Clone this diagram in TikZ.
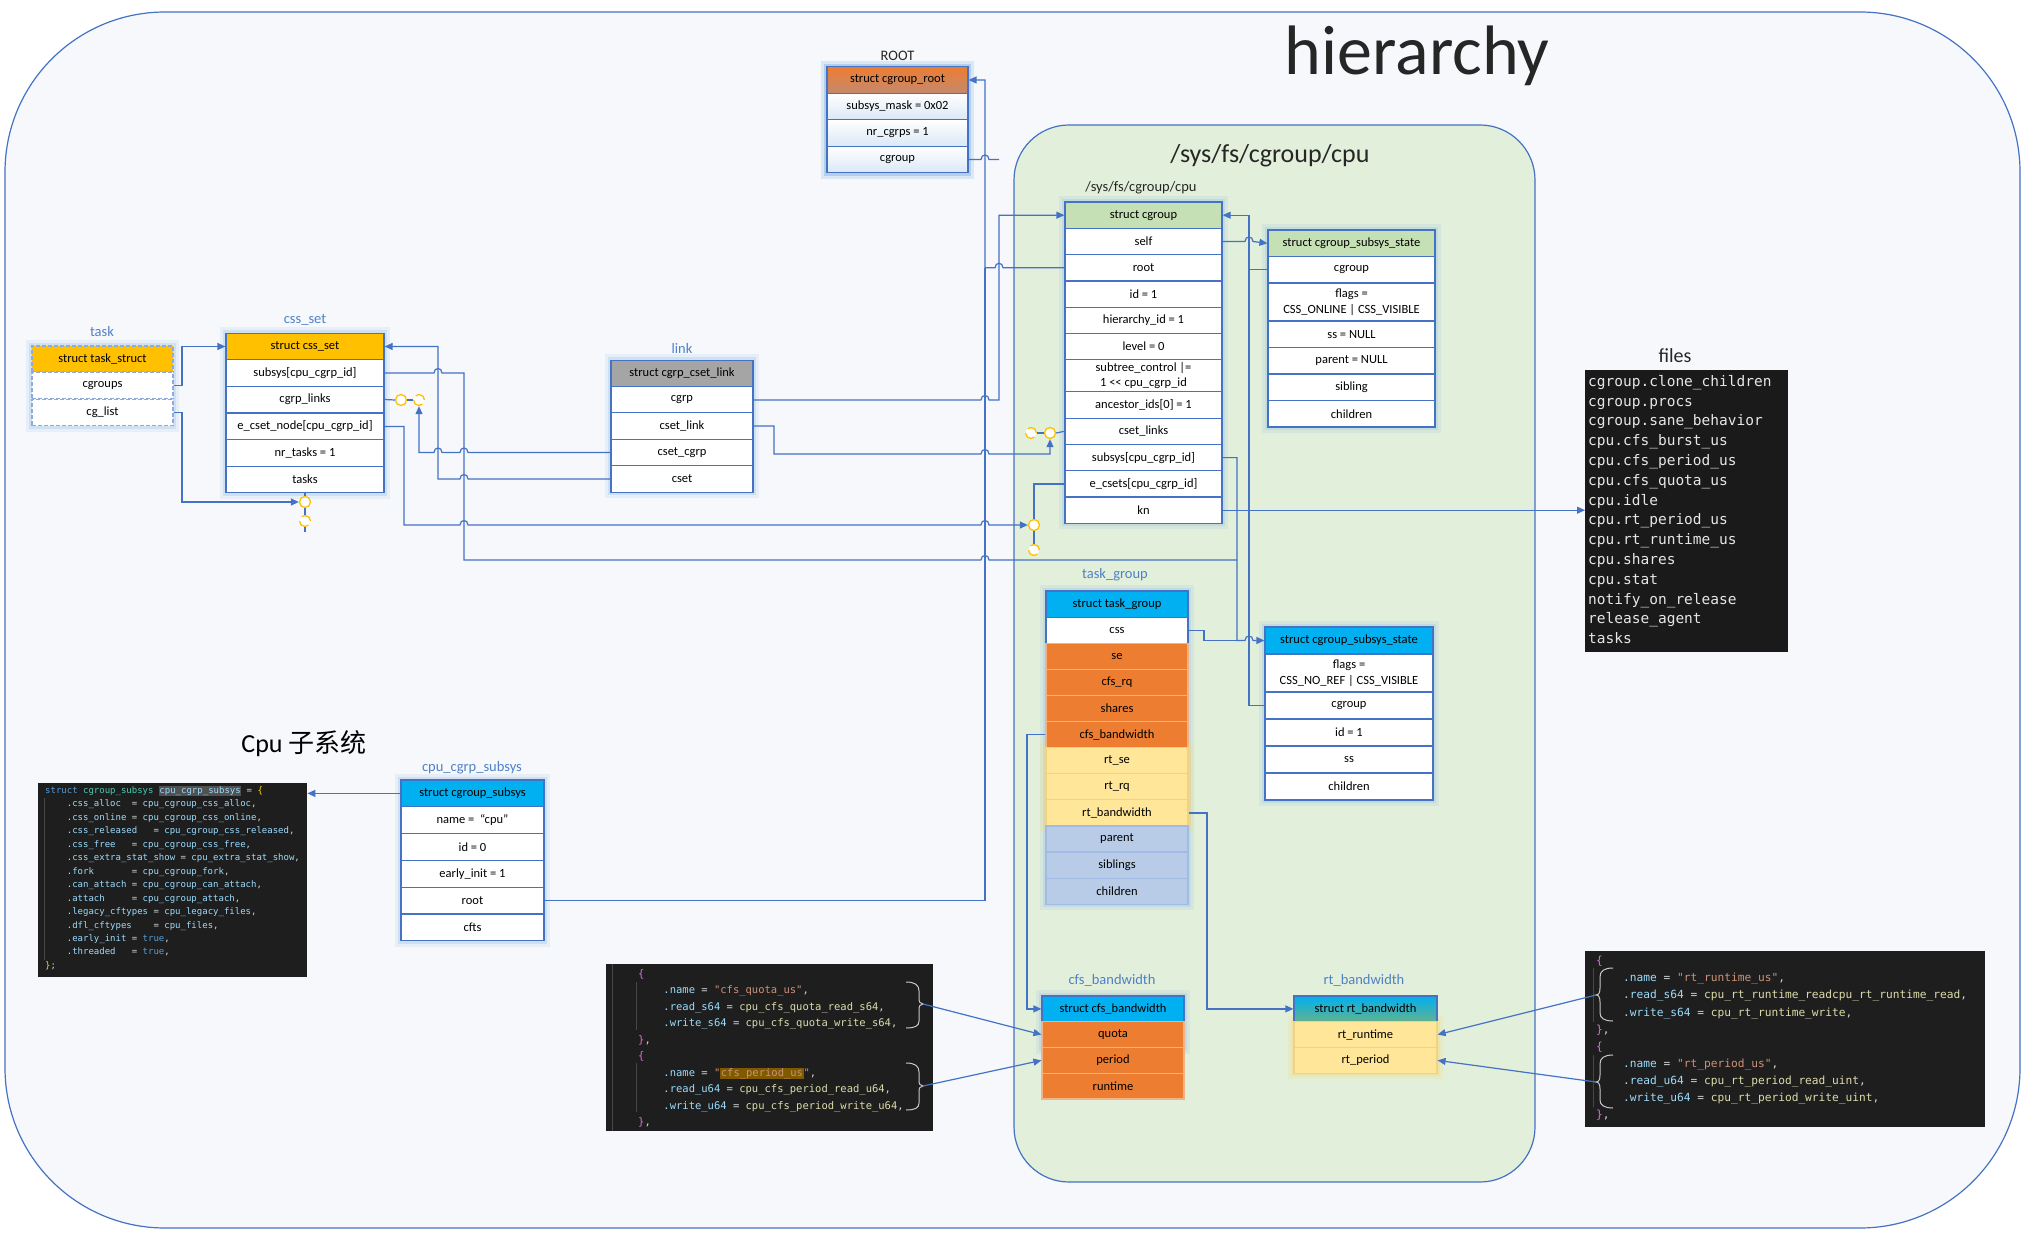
\documentclass[tikz,border=0pt]{standalone}
\usepackage{fontspec}
\setmainfont{Carlito}
\setmonofont{DejaVu Sans Mono}
\newfontfamily\cjk{Noto Sans CJK SC}
\usetikzlibrary{arrows.meta,calc}

\pgfdeclarelayer{frame}
\pgfdeclarelayer{halo}
\pgfsetlayers{frame,halo,main}

\definecolor{boxblue}{RGB}{68,114,196}
\definecolor{tagblue}{RGB}{79,129,201}
\definecolor{dashblue}{RGB}{143,170,220}
\definecolor{gold}{RGB}{255,192,0}
\definecolor{orng}{RGB}{237,125,49}
\definecolor{orngdk}{RGB}{196,137,110}
\definecolor{orngline}{RGB}{244,177,131}
\definecolor{cyanhd}{RGB}{0,176,240}
\definecolor{tealhd}{RGB}{98,178,142}
\definecolor{greenhd}{RGB}{197,224,180}
\definecolor{greyhd}{RGB}{165,165,165}
\definecolor{rtyel}{RGB}{255,230,153}
\definecolor{rtline}{RGB}{240,210,130}
\definecolor{lblue}{RGB}{184,204,232}
\definecolor{lbline}{RGB}{160,188,228}
\definecolor{rowtint}{RGB}{218,232,246}
\definecolor{grnarea}{RGB}{226,239,218}
\definecolor{outerbg}{RGB}{247,248,252}
\definecolor{titlegrey}{RGB}{38,38,38}
\definecolor{glowblue}{RGB}{157,195,230}
\definecolor{glowroot}{RGB}{91,155,213}
\definecolor{glowyel}{RGB}{255,217,102}
\definecolor{codebg}{RGB}{30,30,30}
\definecolor{filebg}{RGB}{26,26,26}
\definecolor{filetxt}{RGB}{230,230,230}
\definecolor{ckw}{RGB}{86,156,214}
\definecolor{ctype}{RGB}{78,201,176}
\definecolor{cvar}{RGB}{156,220,254}
\definecolor{cfun}{RGB}{220,220,170}
\definecolor{cstr}{RGB}{206,145,120}
\definecolor{cpun}{RGB}{212,212,212}
\definecolor{cbrk}{RGB}{255,215,0}
\definecolor{cmag}{RGB}{218,112,214}
\definecolor{hlgrey}{RGB}{81,81,81}
\definecolor{hlbrown}{RGB}{128,90,0}
\definecolor{guidegrey}{RGB}{70,70,70}
\definecolor{bracegrey}{RGB}{200,200,200}

% code colouring
\newcommand\kw[1]{\textcolor{ckw}{#1}}
\newcommand\ty[1]{\textcolor{ctype}{#1}}
\newcommand\va[1]{\textcolor{cvar}{#1}}
\newcommand\fn[1]{\textcolor{cfun}{#1}}
\newcommand\st[1]{\textcolor{cstr}{#1}}
\newcommand\bk[1]{\textcolor{cbrk}{#1}}
\newcommand\mg[1]{\textcolor{cmag}{#1}}
\newcommand\hlbox[2]{{\setlength\fboxsep{0.5pt}\colorbox{#1}{#2}}}

% line jumps over a vertical line (going right / going left)
\newcommand\hopr[1]{-- ($(#1)+(-4,0)$) .. controls +(0,-6) and +(0,-6) .. ($(#1)+(4,0)$)}
\newcommand\hopl[1]{-- ($(#1)+(4,0)$) .. controls +(0,-6) and +(0,-6) .. ($(#1)+(-4,0)$)}

\tikzset{every picture/.style={line width=0.75pt}}
\tikzset{
  fld/.style={draw=boxblue, line width=1.2pt, fill=white, inner sep=0pt, text=black, align=center, font=\fontsize{12.5}{15.5}\selectfont},
  dfld/.style={fld, draw=dashblue, dash pattern=on 4pt off 2pt},
  orow/.style={fld, fill=orng, draw=orngline},
  yrow/.style={fld, fill=rtyel, draw=rtline},
  brow/.style={fld, fill=lblue, draw=lbline},
  tag/.style={text=tagblue, font=\fontsize{14.5}{17}\selectfont},
  ttl/.style={text=titlegrey, font=\fontsize{#1}{#1}\selectfont},
  conn/.style={draw=boxblue, line width=1.2pt, -{Triangle[length=8pt,width=7pt]}},
  wire/.style={draw=boxblue, line width=1.2pt},
  lh/.style={circle, draw=gold, fill=white, line width=1.3pt, minimum size=11pt, inner sep=0pt},
  lhd/.style={lh, dash pattern=on 12pt off 5pt},
  glow/.style={draw=#1, line width=11pt, opacity=0.18, preaction={draw=#1, line width=5pt, opacity=0.3}},
  codebox/.style={fill=#1, draw=none, inner sep=0pt, anchor=north west},
  codetxt/.style={anchor=north west, inner sep=0pt, align=left, text=cpun},
  curl/.style={draw=bracegrey, line width=1pt},
  guide/.style={draw=guidegrey, line width=1pt},
}

\begin{document}
\catcode`\_=12
\begin{tikzpicture}[x=1pt,y=1pt,yscale=-1]
  \useasboundingbox (0,0) rectangle (2026,1238);

  % frames
  \begin{pgfonlayer}{frame}
    \draw[boxblue, line width=1.2pt, fill=outerbg, rounded corners=160pt] (5,12) rectangle (2020,1228);
    \draw[boxblue, line width=1.2pt, fill=grnarea, rounded corners=55pt] (1014,125) rectangle (1535,1182);
  \end{pgfonlayer}

  % titles
  \node[ttl=70, anchor=base] (title) at (1417,75) {hierarchy};
  \node[ttl=26, anchor=base] (cpu-title) at (1270,163) {/sys/fs/cgroup/cpu};
  \node[ttl=26, anchor=base, text=black] (sub-title) at (304,752) {Cpu {\cjk 子系统}};
  \node[ttl=14.5] (root-tag) at (897.5,56) {ROOT};
  \node[ttl=14.5] (cg-tag) at (1141,188) {/sys/fs/cgroup/cpu};
  \node[ttl=20] (files-tag) at (1675,356) {files};

  % tags
  \node[tag] (tk-tag) at (102,332) {task};
  \node[tag] (cs-tag) at (305,320) {css_set};
  \node[tag] (lk-tag) at (682,348) {link};
  \node[tag] (tg-tag) at (1115,575) {task_group};
  \node[tag] (ss-tag) at (472,768) {cpu_cgrp_subsys};
  \node[tag] (cb-tag) at (1112,980) {cfs_bandwidth};
  \node[tag] (rb-tag) at (1364,980) {rt_bandwidth};

  % struct cgroup_root
  \begin{scope}[every node/.append style={minimum width=141pt, minimum height=26.5pt}]
    \node[fld, top color=orng, bottom color=orngdk] (rt-hd) at (897.5,80) {struct cgroup_root};
    \node[fld, top color=white, bottom color=rowtint] (rt-mask) at (897.5,106.5) {subsys_mask = 0x02};
    \node[fld, top color=white, bottom color=rowtint] (rt-nr) at (897.5,133) {nr_cgrps = 1};
    \node[fld, top color=white, bottom color=rowtint] (rt-cgroup) at (897.5,159.5) {cgroup};
  \end{scope}

  % struct task_struct
  \begin{scope}[every node/.append style={minimum width=141pt, minimum height=26pt}]
    \node[dfld, fill=gold] (tk-hd) at (102.5,359) {struct task_struct};
    \node[dfld] (tk-cgroups) at (102.5,385.5) {cgroups};
    \node[dfld] (tk-cglist) at (102.5,412.5) {cg_list};
  \end{scope}

  % struct css_set
  \begin{scope}[every node/.append style={minimum width=158pt, minimum height=26.7pt}]
    \node[fld, fill=gold] (cs-hd) at (305,346.5) {struct css_set};
    \node[fld] (cs-subsys) at (305,373) {subsys[cpu_cgrp_id]};
    \node[fld] (cs-links) at (305,399.5) {cgrp_links};
    \node[fld] (cs-ecset) at (305,426.5) {e_cset_node[cpu_cgrp_id]};
    \node[fld] (cs-nr) at (305,453) {nr_tasks = 1};
    \node[fld] (cs-tasks) at (305,479.5) {tasks};
  \end{scope}

  % struct cgrp_cset_link
  \begin{scope}[every node/.append style={minimum width=142pt, minimum height=26.5pt}]
    \node[fld, fill=greyhd] (lk-hd) at (682,373.5) {struct cgrp_cset_link};
    \node[fld] (lk-cgrp) at (682,400) {cgrp};
    \node[fld] (lk-clink) at (682,426) {cset_link};
    \node[fld] (lk-ccg) at (682,452.5) {cset_cgrp};
    \node[fld] (lk-cset) at (682,479) {cset};
  \end{scope}

  % struct cgroup
  \begin{scope}[every node/.append style={minimum width=157pt, minimum height=26.3pt}]
    \node[fld, fill=greenhd] (cg-hd) at (1143.5,215.2) {struct cgroup};
    \node[fld] (cg-self) at (1143.5,241.5) {self};
    \node[fld] (cg-root) at (1143.5,267.8) {root};
    \node[fld] (cg-id) at (1143.5,294.1) {id = 1};
    \node[fld] (cg-hier) at (1143.5,320.4) {hierarchy_id = 1};
    \node[fld] (cg-level) at (1143.5,346.7) {level = 0};
    \node[fld, minimum height=32pt] (cg-subtree) at (1143.5,375.8) {subtree_control |=\\1 <{}< cpu_cgrp_id};
    \node[fld] (cg-anc) at (1143.5,405) {ancestor_ids[0] = 1};
    \node[fld] (cg-clinks) at (1143.5,431.3) {cset_links};
    \node[fld] (cg-subsys) at (1143.5,457.6) {subsys[cpu_cgrp_id]};
    \node[fld] (cg-ecsets) at (1143.5,483.9) {e_csets[cpu_cgrp_id]};
    \node[fld] (cg-kn) at (1143.5,510.2) {kn};
  \end{scope}

  % struct cgroup_subsys_state of the cgroup
  \begin{scope}[every node/.append style={minimum width=167pt, minimum height=26.5pt}]
    \node[fld, fill=greenhd] (c1-hd) at (1351.5,243.3) {struct cgroup_subsys_state};
    \node[fld] (c1-cgroup) at (1351.5,269.8) {cgroup};
    \node[fld, minimum height=38pt] (c1-flags) at (1351.5,302) {flags =\\CSS_ONLINE | CSS_VISIBLE};
    \node[fld] (c1-ss) at (1351.5,334.3) {ss = NULL};
    \node[fld] (c1-parent) at (1351.5,360.8) {parent = NULL};
    \node[fld] (c1-sibling) at (1351.5,387.3) {sibling};
    \node[fld] (c1-children) at (1351.5,413.8) {children};
  \end{scope}

  % struct task_group
  \begin{scope}[every node/.append style={minimum width=142pt, minimum height=26.1pt}]
    \node[fld, fill=cyanhd] (tg-hd) at (1117,604.1) {struct task_group};
    \node[fld] (tg-css) at (1117,630.2) {css};
    \node[orow] (tg-se) at (1117,656.3) {se};
    \node[orow] (tg-cfsrq) at (1117,682.4) {cfs_rq};
    \node[orow] (tg-shares) at (1117,708.5) {shares};
    \node[orow] (tg-cfsbw) at (1117,734.6) {cfs_bandwidth};
    \node[yrow] (tg-rtse) at (1117,760.7) {rt_se};
    \node[yrow] (tg-rtrq) at (1117,786.8) {rt_rq};
    \node[yrow] (tg-rtbw) at (1117,812.9) {rt_bandwidth};
    \node[brow] (tg-parent) at (1117,839) {parent};
    \node[brow] (tg-siblings) at (1117,865.1) {siblings};
    \node[brow] (tg-children) at (1117,891.2) {children};
  \end{scope}

  % struct cgroup_subsys_state of the task_group
  \begin{scope}[every node/.append style={minimum width=168pt, minimum height=27pt}]
    \node[fld, fill=cyanhd] (c2-hd) at (1349,640.5) {struct cgroup_subsys_state};
    \node[fld, minimum height=38pt] (c2-flags) at (1349,673) {flags =\\CSS_NO_REF | CSS_VISIBLE};
    \node[fld] (c2-cgroup) at (1349,705.5) {cgroup};
    \node[fld] (c2-id) at (1349,732.5) {id = 1};
    \node[fld] (c2-ss) at (1349,759.5) {ss};
    \node[fld] (c2-children) at (1349,786.5) {children};
  \end{scope}

  % struct cgroup_subsys
  \begin{scope}[every node/.append style={minimum width=143pt, minimum height=26.8pt}]
    \node[fld, fill=cyanhd] (ss-hd) at (472.5,793.4) {struct cgroup_subsys};
    \node[fld] (ss-name) at (472.5,820.2) {name =~ “cpu”};
    \node[fld] (ss-id) at (472.5,847) {id = 0};
    \node[fld] (ss-early) at (472.5,873.8) {early_init = 1};
    \node[fld] (ss-root) at (472.5,900.6) {root};
    \node[fld] (ss-cfts) at (472.5,927.4) {cfts};
  \end{scope}

  % struct cfs_bandwidth
  \begin{scope}[every node/.append style={minimum width=142pt, minimum height=25.8pt}]
    \node[fld, fill=cyanhd] (cb-hd) at (1113,1008.9) {struct cfs_bandwidth};
    \node[orow] (cb-quota) at (1113,1034.6) {quota};
    \node[orow] (cb-period) at (1113,1060.4) {period};
    \node[orow] (cb-runtime) at (1113,1086.1) {runtime};
  \end{scope}

  % struct rt_bandwidth
  \begin{scope}[every node/.append style={minimum width=143pt, minimum height=25.8pt}]
    \node[fld, top color=cyanhd, bottom color=tealhd] (rb-hd) at (1365.5,1008.9) {struct rt_bandwidth};
    \node[yrow] (rb-rtrun) at (1365.5,1034.6) {rt_runtime};
    \node[yrow] (rb-rtper) at (1365.5,1060.4) {rt_period};
  \end{scope}

  % glow round the boxes
  \begin{pgfonlayer}{halo}
    \draw[glow=glowroot] (rt-hd.north west) rectangle (rt-cgroup.south east);
    \draw[glow=glowblue] (tk-hd.north west) rectangle (tk-cglist.south east);
    \draw[glow=glowblue] (cs-hd.north west) rectangle (cs-tasks.south east);
    \draw[glow=glowblue] (lk-hd.north west) rectangle (lk-cset.south east);
    \draw[glow=glowblue] (cg-hd.north west) rectangle (cg-kn.south east);
    \draw[glow=glowblue] (c1-hd.north west) rectangle (c1-children.south east);
    \draw[glow=glowblue] (tg-hd.north west) rectangle (tg-children.south east);
    \draw[glow=glowyel] (tg-rtse.north west) rectangle (tg-rtbw.south east);
    \draw[glow=glowblue] (c2-hd.north west) rectangle (c2-children.south east);
    \draw[glow=glowblue] (ss-hd.north west) rectangle (ss-cfts.south east);
    \draw[glow=glowblue] (cb-hd.north west) rectangle (cb-quota.south east);
    \draw[glow=glowyel] (rb-rtrun.north west) rectangle (rb-rtper.south east);
  \end{pgfonlayer}

  % list heads
  \node[lh] (lh-t1) at (305,502) {};
  \node[lhd] (lh-t2) at (305,521) {};
  \node[lh] (lh-c1) at (401,400) {};
  \node[lhd] (lh-c2) at (419,400) {};
  \node[lhd] (lh-g1) at (1031,433) {};
  \node[lh] (lh-g2) at (1050,433) {};
  \node[lh] (lh-e1) at (1034,525) {};
  \node[lhd] (lh-e2) at (1034,550) {};
  \coordinate (lh-tend) at (305,532);

  % code: cpu_cgrp_subsys
  \node[codebox=codebg, minimum width=269pt, minimum height=194pt] (subsys-code) at (38,783) {};
  \draw[guide] (44,798) -- (44,960);
  \node[codetxt, font=\fontsize{9}{13.45}\selectfont\ttfamily\frenchspacing] (subsys-txt) at (45,786) {%
\kw{struct} \ty{cgroup_subsys} \hlbox{hlgrey}{\va{cpu_cgrp_subsys}} = \bk{\{}\\
~~~~\va{.css_alloc}~~= \va{cpu_cgroup_css_alloc},\\
~~~~\va{.css_online} = \va{cpu_cgroup_css_online},\\
~~~~\va{.css_released}~~~= \va{cpu_cgroup_css_released},\\
~~~~\va{.css_free}~~~= \va{cpu_cgroup_css_free},\\
~~~~\va{.css_extra_stat_show} = \va{cpu_extra_stat_show},\\
~~~~\va{.fork}~~~~~~~= \va{cpu_cgroup_fork},\\
~~~~\va{.can_attach} = \va{cpu_cgroup_can_attach},\\
~~~~\va{.attach}~~~~~= \va{cpu_cgroup_attach},\\
~~~~\va{.legacy_cftypes} = \va{cpu_legacy_files},\\
~~~~\va{.dfl_cftypes}~~~~= \va{cpu_files},\\
~~~~\va{.early_init} = \kw{true},\\
~~~~\va{.threaded}~~~= \kw{true},\\
\bk{\}};};

  % code: cfs files
  \node[codebox=codebg, minimum width=327pt, minimum height=167pt] (cfs-code) at (606,964) {};
  \draw[guide] (612,964) -- (612,1131);
  \draw[guide] (636,982) -- (636,1030);
  \draw[guide] (636,1063) -- (636,1112);
  \node[codetxt, font=\fontsize{10.5}{16.5}\selectfont\ttfamily\frenchspacing] (cfs-txt) at (638,969) {%
\mg{\{}\\
~~~~\va{.name} = \st{"cfs_quota_us"},\\
~~~~\va{.read_s64} = \fn{cpu_cfs_quota_read_s64},\\
~~~~\va{.write_s64} = \fn{cpu_cfs_quota_write_s64},\\
\mg{\}},\\
\mg{\{}\\
~~~~\va{.name} = \st{"\hlbox{hlbrown}{cfs_period_us}"},\\
~~~~\va{.read_u64} = \fn{cpu_cfs_period_read_u64},\\
~~~~\va{.write_u64} = \fn{cpu_cfs_period_write_u64},\\
\mg{\}},};
  \draw[curl] (906,982) .. controls (915,982) and (919,985) .. (919,991) -- (919,998) .. controls (919,1002) and (920,1004) .. (923,1004) .. controls (920,1004) and (919,1006) .. (919,1010) -- (919,1021) .. controls (919,1026) and (915,1028) .. (906,1028);
  \draw[curl] (906,1063) .. controls (915,1063) and (919,1066) .. (919,1072) -- (919,1080) .. controls (919,1084) and (920,1086) .. (923,1086) .. controls (920,1086) and (919,1088) .. (919,1092) -- (919,1103) .. controls (919,1108) and (915,1110) .. (906,1110);
  \coordinate (cfsq-tip) at (923,1004);
  \coordinate (cfsp-tip) at (923,1086);

  % code: rt files
  \node[codebox=codebg, minimum width=400pt, minimum height=176pt] (rt-code) at (1585,951) {};
  \draw[guide] (1593,968) -- (1593,1022);
  \draw[guide] (1593,1055) -- (1593,1107);
  \node[codetxt, font=\fontsize{11.2}{17.1}\selectfont\ttfamily\frenchspacing] (rt-txt) at (1596,956) {%
\mg{\{}\\
~~~~\va{.name} = \st{"rt_runtime_us"},\\
~~~~\va{.read_s64} = \fn{cpu_rt_runtime_readcpu_rt_runtime_read},\\
~~~~\va{.write_s64} = \fn{cpu_rt_runtime_write},\\
\mg{\}},\\
\mg{\{}\\
~~~~\va{.name} = \st{"rt_period_us"},\\
~~~~\va{.read_u64} = \fn{cpu_rt_period_read_uint},\\
~~~~\va{.write_u64} = \fn{cpu_rt_period_write_uint},\\
\mg{\}},};
  \draw[curl] (1613,968) .. controls (1604,968) and (1600,971) .. (1600,977) -- (1600,988) .. controls (1600,992) and (1599,995) .. (1596,995) .. controls (1599,995) and (1600,998) .. (1600,1002) -- (1600,1013) .. controls (1600,1018) and (1604,1021) .. (1613,1021);
  \draw[curl] (1613,1055) .. controls (1604,1055) and (1600,1058) .. (1600,1064) -- (1600,1075) .. controls (1600,1079) and (1599,1082) .. (1596,1082) .. controls (1599,1082) and (1600,1085) .. (1600,1089) -- (1600,1100) .. controls (1600,1105) and (1604,1108) .. (1613,1108);
  \coordinate (rtr-tip) at (1596,995);
  \coordinate (rtp-tip) at (1596,1082);

  % files
  \node[codebox=filebg, minimum width=203pt, minimum height=282pt] (files) at (1585,370) {};
  \node[codetxt, text=filetxt, font=\fontsize{14.5}{19.8}\selectfont\ttfamily] (files-txt) at (1588,375) {%
cgroup.clone_children\\cgroup.procs\\cgroup.sane_behavior\\cpu.cfs_burst_us\\cpu.cfs_period_us\\cpu.cfs_quota_us\\cpu.idle\\cpu.rt_period_us\\cpu.rt_runtime_us\\cpu.shares\\cpu.stat\\notify_on_release\\release_agent\\tasks};

  % vertical runs of the connectors
  \coordinate (v-task) at (182,0);
  \coordinate (v-ecset) at (404,0);
  \coordinate (v-cset) at (438,0);
  \coordinate (v-subsys) at (464,0);
  \coordinate (v-clink) at (774,0);
  \coordinate (v-root) at (985,0);
  \coordinate (v-cgrp) at (999,0);
  \coordinate (v-cfsbw) at (1027,0);
  \coordinate (v-tgcss) at (1204,0);
  \coordinate (v-rtbw) at (1207,0);
  \coordinate (v-css) at (1237,0);
  \coordinate (v-cgback) at (1249,0);
  \coordinate (h-clink) at (0,454);
  \coordinate (h-subsys) at (0,560);

  % task -> css_set
  \draw[conn] (tk-cgroups.east) -- (v-task |- tk-cgroups.east) -- (v-task |- cs-hd.west) -- (cs-hd.west);
  \draw[conn] (tk-cglist.east) -- (v-task |- tk-cglist.east) -- (v-task |- lh-t1.west) -- (lh-t1.west);
  \draw[wire] (cs-tasks.south) -- (lh-t1.north);
  \draw[wire] (lh-t1.south) -- (lh-t2.north);
  \draw[wire] (lh-t2.south) -- (lh-tend);

  % css_set <-> link
  \draw[wire] (cs-links.east) -- (lh-c1.west);
  \draw[wire] (lh-c1.east) -- (lh-c2.west);
  \draw[conn] (lk-ccg.west) \hopl{v-subsys |- lk-ccg.west} \hopl{v-cset |- lk-ccg.west} -- (lh-c2 |- lk-ccg.west) -- (lh-c2.south);
  \draw[conn] (lk-cset.west) \hopl{v-subsys |- lk-cset.west} -- (v-cset |- lk-cset.west) -- (v-cset |- cs-hd.east) -- (cs-hd.east);

  % css_set.subsys and cgroup.subsys -> task_group css
  \draw[wire] (cs-subsys.east) \hopr{v-cset |- cs-subsys.east} -- (v-subsys |- cs-subsys.east) -- (v-subsys |- h-subsys) \hopr{v-root |- h-subsys} -- (v-css |- h-subsys);
  \draw[conn] (cg-subsys.east) -- (v-css |- cg-subsys.east) -- (v-css |- c2-hd.west) \hopr{v-cgback |- c2-hd.west} -- (c2-hd.west);
  \draw[wire] (tg-css.east) -- (v-tgcss |- tg-css.east) -- (v-tgcss |- c2-hd.west) -- (v-css |- c2-hd.west);

  % e_cset_node -> e_csets
  \draw[conn] (cs-ecset.east) -- (v-ecset |- cs-ecset.east) -- (v-ecset |- lh-e1.west) \hopr{v-subsys |- lh-e1.west} \hopr{v-root |- lh-e1.west} -- (lh-e1.west);
  \draw[wire] (cg-ecsets.west) -- (lh-e1 |- cg-ecsets.west) -- (lh-e1.north);
  \draw[wire] (lh-e1.south) -- (lh-e2.north);

  % link -> cgroup
  \draw[conn] (lk-cgrp.east) \hopr{v-root |- lk-cgrp.east} -- (v-cgrp |- lk-cgrp.east) -- (v-cgrp |- cg-hd.west) -- (cg-hd.west);
  \draw[wire] (rt-cgroup.east) \hopr{v-root |- rt-cgroup.east} -- (v-cgrp |- rt-cgroup.east);
  \draw[conn] (lk-clink.east) -- (v-clink |- lk-clink.east) -- (v-clink |- h-clink) \hopr{v-root |- h-clink} -- (lh-g2 |- h-clink) -- (lh-g2.south);
  \draw[wire] (cg-clinks.west) -- (lh-g2.east);
  \draw[wire] (lh-g2.west) -- (lh-g1.east);

  % root pointers -> cgroup_root
  \draw[conn] (cg-root.west) \hopl{v-cgrp |- cg-root.west} -- (v-root |- cg-root.west) -- (v-root |- rt-hd.east) -- (rt-hd.east);
  \draw[wire] (ss-root.east) -- (v-root |- ss-root.east) -- (v-root |- cg-root.west);

  % cgroup <-> css
  \draw[conn] (cg-self.east) \hopr{v-cgback |- cg-self.east} -- (c1-hd.west);
  \draw[conn] (c2-cgroup.west) -- (v-cgback |- c2-cgroup.west) -- (v-cgback |- cg-hd.east) -- (cg-hd.east);
  \draw[wire] (c1-cgroup.west) -- (v-cgback |- c1-cgroup.west);

  % kn -> files
  \draw[conn] (cg-kn.east) -- (files.west |- cg-kn.east);

  % task_group -> bandwidths
  \draw[conn] (tg-cfsbw.west) -- (v-cfsbw |- tg-cfsbw.west) -- (v-cfsbw |- cb-hd.west) -- (cb-hd.west);
  \draw[conn] (tg-rtbw.east) -- (v-rtbw |- tg-rtbw.east) -- (v-rtbw |- rb-hd.west) -- (rb-hd.west);

  % files -> fields
  \draw[conn] (cfsq-tip) -- (cb-quota.west);
  \draw[conn] (cfsp-tip) -- (cb-period.west);
  \draw[conn] (rtr-tip) -- (rb-rtrun.east);
  \draw[conn] (rtp-tip) -- (rb-rtper.east);

  % cgroup_subsys -> its code
  \draw[conn] (ss-hd.west) -- (subsys-code.east |- ss-hd.west);
\end{tikzpicture}
\end{document}
